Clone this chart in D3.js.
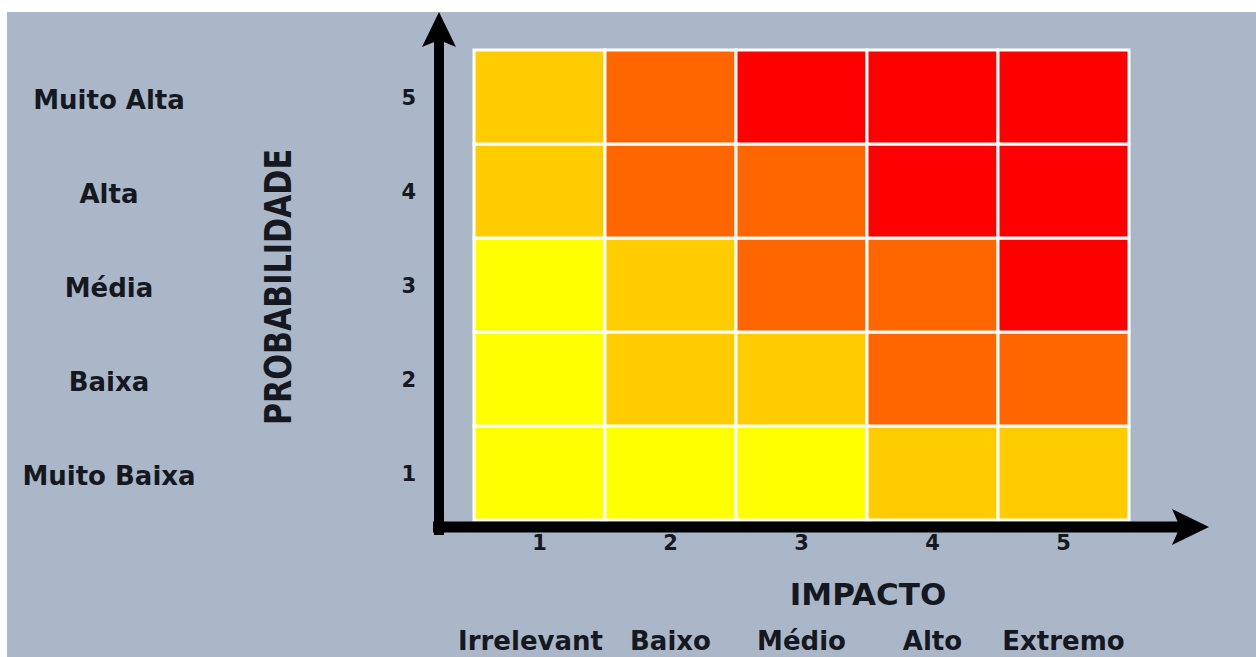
<!DOCTYPE html>
<html>
<head>
<meta charset="utf-8">
<script src="https://cdn.jsdelivr.net/npm/d3@7"></script>
<style>
  html, body { margin: 0; padding: 0; background: #ffffff; }
  svg { display: block; }
  text { font-family: "DejaVu Sans", Verdana, sans-serif; font-weight: bold; fill: #161820; }
</style>
</head>
<body>
<svg id="chart" width="1256" height="657"></svg>
<script>
// Impact (x) and probability (y) levels
const impactLevels = [1, 2, 3, 4, 5];
const probLevels = [1, 2, 3, 4, 5];
const impactLabels = ["Irrelevant", "Baixo", "Médio", "Alto", "Extremo"];
const probLabels = ["Muito Baixa", "Baixa", "Média", "Alta", "Muito Alta"];

// Risk level per cell, one row per probability level (1 → 5), columns by impact (1 → 5)
const riskProb1 = [1, 1, 1, 2, 2];
const riskProb2 = [1, 2, 2, 3, 3];
const riskProb3 = [1, 2, 3, 3, 4];
const riskProb4 = [2, 3, 3, 4, 4];
const riskProb5 = [2, 3, 4, 4, 4];
const riskRows = [riskProb1, riskProb2, riskProb3, riskProb4, riskProb5];

// Colour for each risk level 1..4
const riskLevels = [1, 2, 3, 4];
const riskColors = ["#ffff00", "#ffcc00", "#ff6600", "#ff0000"];

const cells = [];
probLevels.forEach((p, i) => {
  impactLevels.forEach((im, j) => {
    cells.push({ impact: im, prob: p, level: riskRows[i][j] });
  });
});

const svg = d3.select("#chart");

// panel background
svg.append("rect")
  .attr("x", 7).attr("y", 12)
  .attr("width", 1256 - 7).attr("height", 657 - 12)
  .attr("fill", "#aab7c9");

const x = d3.scaleBand().domain(impactLevels).range([474, 1129]);
const y = d3.scaleBand().domain(probLevels).range([520, 50]);
const color = d3.scaleOrdinal().domain(riskLevels).range(riskColors);

// heat-map cells
svg.append("g")
  .selectAll("rect")
  .data(cells)
  .join("rect")
  .attr("x", d => x(d.impact))
  .attr("y", d => y(d.prob))
  .attr("width", x.bandwidth())
  .attr("height", y.bandwidth())
  .attr("fill", d => color(d.level))
  .attr("stroke", "#ffffff")
  .attr("stroke-width", 3);

// thick axis arrows
const axisX0 = 439, axisY0 = 527;
const arrows = svg.append("g").attr("fill", "#000").attr("stroke", "#000");
arrows.append("line")
  .attr("x1", axisX0).attr("y1", axisY0 + 8)
  .attr("x2", axisX0).attr("y2", 40)
  .attr("stroke-width", 10);
arrows.append("path")
  .attr("stroke", "none")
  .attr("d", `M${axisX0},12 L${axisX0 + 17},47 L${axisX0},40 L${axisX0 - 17},47 Z`);
arrows.append("line")
  .attr("x1", axisX0 - 6).attr("y1", axisY0)
  .attr("x2", 1182).attr("y2", axisY0)
  .attr("stroke-width", 11);
arrows.append("path")
  .attr("stroke", "none")
  .attr("d", `M1209,${axisY0} L1172,${axisY0 - 18} L1180,${axisY0} L1172,${axisY0 + 18} Z`);

// numeric tick labels
const yAxis = svg.append("g")
  .attr("transform", "translate(416,0)")
  .call(d3.axisLeft(y).tickSize(0).tickPadding(0));
yAxis.select(".domain").remove();
yAxis.selectAll("text")
  .attr("font-family", "DejaVu Sans")
  .attr("font-size", 21)
  .attr("font-weight", "bold")
  .attr("fill", "#1e2230")
  .attr("dy", "0.36em");

const xAxis = svg.append("g")
  .attr("transform", "translate(0,533)")
  .call(d3.axisBottom(x).tickSize(0).tickPadding(2));
xAxis.select(".domain").remove();
xAxis.selectAll("text")
  .attr("font-family", "DejaVu Sans")
  .attr("font-size", 21)
  .attr("font-weight", "bold")
  .attr("fill", "#1e2230");

// probability names on the left
svg.append("g")
  .selectAll("text")
  .data(probLevels)
  .join("text")
  .attr("x", 109)
  .attr("y", d => y(d) + y.bandwidth() / 2 + 12)
  .attr("text-anchor", "middle")
  .attr("font-size", 26)
  .text((d, i) => probLabels[i]);

// impact names along the bottom
svg.append("g")
  .selectAll("text")
  .data(impactLevels)
  .join("text")
  .attr("x", d => x(d) + x.bandwidth() / 2 - (d === 1 ? 9 : 0))
  .attr("y", 650)
  .attr("text-anchor", "middle")
  .attr("font-size", 26)
  .text((d, i) => impactLabels[i]);

// axis titles
svg.append("text")
  .attr("x", 868).attr("y", 605)
  .attr("text-anchor", "middle")
  .attr("font-size", 31)
  .text("IMPACTO");

svg.append("text")
  .attr("transform", "translate(291,287) rotate(-90)")
  .attr("text-anchor", "middle")
  .attr("font-size", 37)
  .attr("textLength", 276)
  .attr("lengthAdjust", "spacingAndGlyphs")
  .text("PROBABILIDADE");
</script>
</body>
</html>
